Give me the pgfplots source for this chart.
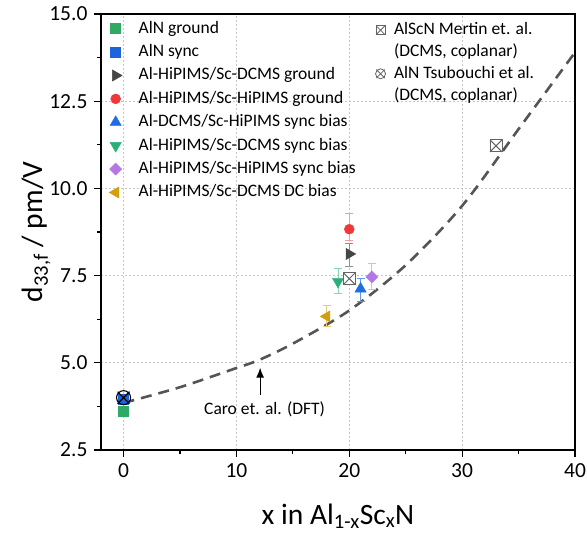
\documentclass[border=0pt]{standalone}
\usepackage{fontspec}
\setmainfont{Carlito}
\usepackage{pgfplots}
\pgfplotsset{compat=1.18}
\usetikzlibrary{arrows.meta}

\definecolor{cgreen}{RGB}{46,170,100}
\definecolor{cblue}{RGB}{28,100,220}
\definecolor{cgray}{RGB}{70,70,70}
\definecolor{cred}{RGB}{238,56,60}
\definecolor{cblue2}{RGB}{30,108,232}
\definecolor{cgreen2}{RGB}{40,176,120}
\definecolor{cpurple}{RGB}{180,120,228}
\definecolor{cgold}{RGB}{212,158,14}
\definecolor{cdft}{RGB}{85,85,85}
\definecolor{cref}{RGB}{100,100,100}

% square with a cross, circle with a cross
\pgfdeclareplotmark{boxx}{%
  \pgfpathrectangle{\pgfqpoint{-\pgfplotmarksize}{-\pgfplotmarksize}}{\pgfqpoint{2\pgfplotmarksize}{2\pgfplotmarksize}}%
  \pgfusepathqfillstroke
  \pgfpathmoveto{\pgfqpoint{-\pgfplotmarksize}{-\pgfplotmarksize}}\pgfpathlineto{\pgfqpoint{\pgfplotmarksize}{\pgfplotmarksize}}%
  \pgfpathmoveto{\pgfqpoint{-\pgfplotmarksize}{\pgfplotmarksize}}\pgfpathlineto{\pgfqpoint{\pgfplotmarksize}{-\pgfplotmarksize}}%
  \pgfusepathqstroke}
\pgfdeclareplotmark{circx}{%
  \pgfpathcircle{\pgfpointorigin}{\pgfplotmarksize}%
  \pgfpathmoveto{\pgfqpoint{-.85\pgfplotmarksize}{-.85\pgfplotmarksize}}\pgfpathlineto{\pgfqpoint{.85\pgfplotmarksize}{.85\pgfplotmarksize}}%
  \pgfpathmoveto{\pgfqpoint{-.85\pgfplotmarksize}{.85\pgfplotmarksize}}\pgfpathlineto{\pgfqpoint{.85\pgfplotmarksize}{-.85\pgfplotmarksize}}%
  \pgfusepathqstroke}

\tikzset{legfont/.style={font=\fontsize{17.5}{21}\selectfont}}
\pgfplotsset{
  errs/.style={error bars/y dir=both, error bars/y explicit,
    error bars/error bar style={line width=0.9pt, #1},
    error bars/error mark options={rotate=90, mark size=4pt, line width=0.9pt, #1}},
  base/.style={at={(0,0)}, anchor=south west, scale only axis,
    width=474pt, height=436pt, xmin=-2, xmax=40, ymin=2.5, ymax=15},
}

\begin{document}
\begin{tikzpicture}
\useasboundingbox (-101pt,-84pt) rectangle (486pt,450pt);
\begin{axis}[base,
  xtick={0,10,20,30,40}, ytick={2.5,5,7.5,10,12.5,15},
  minor x tick num=1, minor y tick num=1,
  tick align=outside, xtick pos=bottom, ytick pos=left,
  major tick length=7pt, minor tick length=4pt,
  every tick/.style={black, line width=1.1pt},
  axis line style={line width=1.3pt},
  grid=major, grid style={gray!45, line width=0.6pt, dash pattern=on 2pt off 2pt},
  yticklabel style={/pgf/number format/fixed, /pgf/number format/fixed zerofill,
    /pgf/number format/precision=1, xshift=-3pt},
  xticklabel style={yshift=-3pt},
  /pgf/number format/assume math mode=true,
  ticklabel style={font=\fontsize{21.5}{25}\selectfont},
  xlabel={x in Al\textsubscript{1-x}Sc\textsubscript{x}N},
  ylabel={d\textsubscript{33,f} / pm/V},
  every axis x label/.style={at={(axis description cs:0.5,-0.152)}, anchor=center,
    font=\fontsize{29.5}{34}\selectfont},
  every axis y label/.style={at={(axis description cs:-0.137,0.5)}, rotate=90, anchor=center,
    font=\fontsize{29.5}{34}\selectfont},
  legend cell align=left,
  legend style={legfont, at={(0,1)}, anchor=north west, xshift=8pt, yshift=-4.5pt,
    draw=none, fill=none, inner sep=0pt, row sep=3.4pt, column sep=15pt,
    nodes={inner sep=1.5pt, text height=13pt, text depth=4pt}},
]
% DFT curve (Caro et al.)
\addplot[forget plot, cdft, line width=2.6pt, dash pattern=on 11pt off 7pt, smooth]
  coordinates {(0,3.85) (5,4.3) (10,4.85) (12,5.08) (15,5.55) (20,6.5)
               (25,7.8) (30,9.5) (35,11.7) (40,13.9)};

\addplot[only marks, mark=square*, mark size=5pt, cgreen, errs={cgreen!50}]
  coordinates {(0,3.62) +- (0,0.08)};
\addlegendentry{AlN ground}
\addplot[only marks, mark=square*, mark size=5pt, cblue, errs={cblue!50}]
  coordinates {(0,3.96) +- (0,0.08)};
\addlegendentry{AlN sync}
\addplot[only marks, mark=triangle*, mark size=6.5pt, mark options={rotate=-90}, cgray, errs={cgray!60}]
  coordinates {(20,8.12) += (0,0.29) -= (0,0.35)};
\addlegendentry{Al-HiPIMS/Sc-DCMS ground}
\addplot[only marks, mark=*, mark size=5pt, cred, errs={cred!50}]
  coordinates {(20,8.83) += (0,0.44) -= (0,0.32)};
\addlegendentry{Al-HiPIMS/Sc-HiPIMS ground}
\addplot[only marks, mark=triangle*, mark size=6.5pt, cblue2, errs={cblue2!70}]
  coordinates {(21,7.12) += (0,0.29) -= (0,0.36)};
\addlegendentry{Al-DCMS/Sc-HiPIMS sync bias}
\addplot[only marks, mark=triangle*, mark size=6.5pt, mark options={rotate=180}, cgreen2, errs={cgreen2!55}]
  coordinates {(19,7.33) += (0,0.37) -= (0,0.35)};
\addlegendentry{Al-HiPIMS/Sc-DCMS sync bias}
\addplot[only marks, mark=square*, mark size=4.3pt, mark options={rotate=45}, cpurple, errs={cpurple!55}]
  coordinates {(22,7.46) += (0,0.38) -= (0,0.36)};
\addlegendentry{Al-HiPIMS/Sc-HiPIMS sync bias}
\addplot[only marks, mark=triangle*, mark size=6.5pt, mark options={rotate=90}, cgold, errs={cgold!55}]
  coordinates {(18,6.33) += (0,0.31) -= (0,0.30)};
\addlegendentry{Al-HiPIMS/Sc-DCMS DC bias}

\draw[-{Latex[length=10pt,width=8pt]}, line width=1.2pt] (axis cs:12.1,4.08) -- (axis cs:12.1,4.86);
\node[legfont, anchor=base] at (axis cs:12.5,3.51) {Caro et. al. (DFT)};
\end{axis}

\begin{axis}[base, hide axis,
  legend cell align=left,
  legend style={legfont, at={(0.565,1)}, anchor=north west, xshift=3pt, yshift=-6pt,
    draw=none, fill=none, inner sep=0pt, row sep=1.8pt, column sep=7pt,
    nodes={inner sep=1.5pt, text height=13pt, text depth=4pt}},
]
\addplot[forget plot, only marks, mark=boxx, mark size=6pt, cref, line width=1pt, mark options={fill=white}]
  coordinates {(20,7.41) (33,11.22)};
\addlegendimage{only marks, mark=boxx, mark size=4.5pt, cref, line width=0.8pt, mark options={fill=white}}
\addlegendentry{AlScN Mertin et. al.}
\addlegendimage{empty legend}
\addlegendentry{(DCMS, coplanar)}
\addplot[forget plot, only marks, mark=circx, mark size=7pt, black, line width=1.1pt]
  coordinates {(0,4.0)};
\addlegendimage{only marks, mark=circx, mark size=5pt, cref, line width=0.8pt}
\addlegendentry{AlN Tsubouchi et al.}
\addlegendimage{empty legend}
\addlegendentry{(DCMS, coplanar)}
\end{axis}
\end{tikzpicture}
\end{document}
